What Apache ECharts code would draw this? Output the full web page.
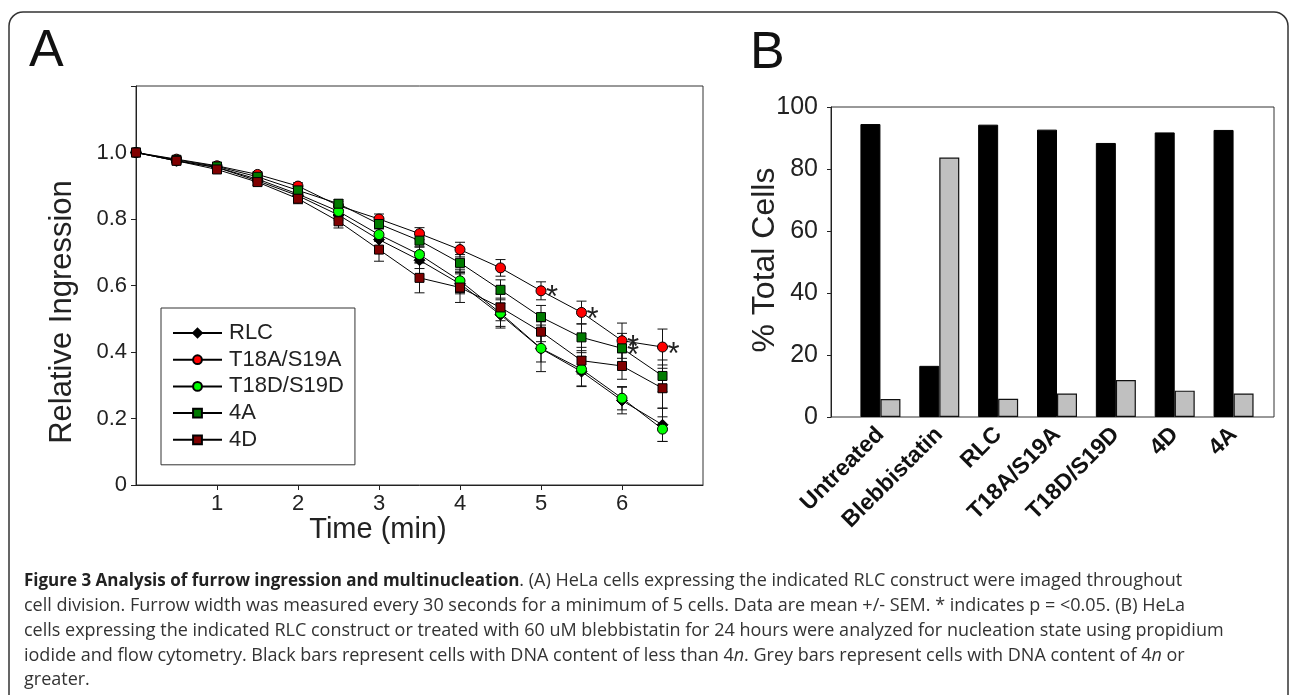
<!DOCTYPE html>
<html>
<head>
<meta charset="utf-8">
<script src="https://cdn.jsdelivr.net/npm/echarts@6/dist/echarts.min.js"></script>
<style>html,body{margin:0;padding:0;background:#fff;}#c{width:1293px;height:695px;}</style>
</head>
<body>
<div id="c"></div>
<script>
// ---------- Panel A data ----------
const timeMin = [0, 0.5, 1, 1.5, 2, 2.5, 3, 3.5, 4, 4.5, 5, 5.5, 6, 6.5];
const rlcMean  = [1.0, 0.975, 0.955, 0.915, 0.870, 0.812, 0.738, 0.676, 0.605, 0.512, 0.410, 0.341, 0.254, 0.181];
const rlcSem   = [0, 0.005, 0.008, 0.010, 0.012, 0.015, 0.020, 0.025, 0.030, 0.035, 0.040, 0.045, 0.040, 0.050];
const t18aMean = [1.0, 0.980, 0.960, 0.934, 0.899, 0.840, 0.800, 0.756, 0.708, 0.653, 0.584, 0.519, 0.434, 0.415];
const t18aSem  = [0, 0.005, 0.006, 0.008, 0.010, 0.012, 0.015, 0.018, 0.022, 0.025, 0.027, 0.034, 0.053, 0.054];
const t18dMean = [1.0, 0.975, 0.955, 0.920, 0.875, 0.823, 0.753, 0.693, 0.614, 0.517, 0.411, 0.348, 0.261, 0.168];
const t18dSem  = [0, 0.005, 0.008, 0.010, 0.012, 0.015, 0.020, 0.025, 0.035, 0.045, 0.070, 0.050, 0.035, 0.037];
const a4Mean   = [1.0, 0.978, 0.958, 0.927, 0.886, 0.846, 0.785, 0.735, 0.668, 0.587, 0.505, 0.444, 0.411, 0.328];
const a4Sem    = [0, 0.005, 0.006, 0.008, 0.010, 0.012, 0.015, 0.020, 0.025, 0.030, 0.035, 0.040, 0.045, 0.048];
const d4Mean   = [1.0, 0.975, 0.949, 0.911, 0.861, 0.793, 0.708, 0.623, 0.594, 0.534, 0.461, 0.374, 0.358, 0.291];
const d4Sem    = [0, 0.005, 0.008, 0.010, 0.015, 0.020, 0.035, 0.045, 0.045, 0.040, 0.030, 0.040, 0.040, 0.060];
// significant points (time, value) marked with *
const sigPoints = [[5, 0.584], [5.5, 0.519], [6, 0.434], [6, 0.411], [6.5, 0.415]];
const xTickValues = [1, 2, 3, 4, 5, 6];
const xTickLabels = ['1', '2', '3', '4', '5', '6'];
const yTickLabels = ['0', '0.2', '0.4', '0.6', '0.8', '1.0'];

// ---------- Panel B data ----------
const barCategories = ['Untreated', 'Blebbistatin', 'RLC', 'T18A/S19A', 'T18D/S19D', '4D', '4A'];
const belowFourN = [94.5, 16.5, 94.3, 92.7, 88.4, 91.8, 92.6];
const fourNOrMore = [5.8, 83.7, 5.9, 7.6, 11.9, 8.5, 7.6];
const bTickLabels = ['0', '20', '40', '60', '80', '100'];

const FONT = 'Liberation Sans, Arial, sans-serif';
const CAP = 'Open Sans';

const seriesDefs = [
  {name: 'RLC', mean: rlcMean, sem: rlcSem, symbol: 'diamond', size: 11, color: '#000000'},
  {name: 'T18A/S19A', mean: t18aMean, sem: t18aSem, symbol: 'circle', size: 10, color: '#ff0000'},
  {name: 'T18D/S19D', mean: t18dMean, sem: t18dSem, symbol: 'circle', size: 10, color: '#00ff00'},
  {name: '4A', mean: a4Mean, sem: a4Sem, symbol: 'rect', size: 9, color: '#007a00'},
  {name: '4D', mean: d4Mean, sem: d4Sem, symbol: 'rect', size: 9, color: '#800000'}
];

function errRender(params, api) {
  const x = api.value(0), y = api.value(1), e = api.value(2);
  if (!e) return null;
  const top = api.coord([x, y + e]);
  const bot = api.coord([x, y - e]);
  const w = 5;
  const st = {stroke: '#111', lineWidth: 1};
  return {type: 'group', children: [
    {type: 'line', shape: {x1: top[0], y1: top[1], x2: bot[0], y2: bot[1]}, style: st},
    {type: 'line', shape: {x1: top[0] - w, y1: top[1], x2: top[0] + w, y2: top[1]}, style: st},
    {type: 'line', shape: {x1: bot[0] - w, y1: bot[1], x2: bot[0] + w, y2: bot[1]}, style: st}
  ]};
}

const series = [];
seriesDefs.forEach(d => {
  series.push({
    type: 'custom', xAxisIndex: 0, yAxisIndex: 0, z: 2, silent: true,
    renderItem: errRender,
    data: timeMin.map((t, i) => [t, d.mean[i], d.sem[i]])
  });
});
seriesDefs.forEach(d => {
  series.push({
    name: d.name, type: 'line', xAxisIndex: 0, yAxisIndex: 0, z: 3,
    symbol: d.symbol, symbolSize: d.size, showAllSymbol: true,
    lineStyle: {color: '#000', width: 1},
    itemStyle: {color: d.color, borderColor: '#000', borderWidth: 1},
    data: timeMin.map((t, i) => [t, d.mean[i]])
  });
});
series.push({
  type: 'custom', xAxisIndex: 0, yAxisIndex: 0, z: 5, silent: true,
  renderItem: function (params, api) {
    const p = api.coord([api.value(0), api.value(1)]);
    return {type: 'text', x: p[0] + 5, y: p[1] + 8, style: {text: '*', fontSize: 31, fontFamily: FONT, fill: '#222', verticalAlign: 'middle', align: 'left'}};
  },
  data: sigPoints
});
series.push({
  name: '< 4n', type: 'bar', xAxisIndex: 2, yAxisIndex: 2, barWidth: 20, barGap: '0%',
  itemStyle: {color: '#000', borderColor: '#000', borderWidth: 1},
  data: belowFourN
});
series.push({
  name: '>= 4n', type: 'bar', xAxisIndex: 2, yAxisIndex: 2, barWidth: 20, barGap: '0%',
  itemStyle: {color: '#c0c0c0', borderColor: '#111', borderWidth: 1.2},
  data: fourNOrMore
});

const chart = echarts.init(document.getElementById('c'), null, {renderer: 'canvas'});
chart.setOption({
  animation: false,
  backgroundColor: '#fff',
  grid: [
    {left: 136, top: 86, width: 567, height: 399, show: true, borderColor: '#333', borderWidth: 1, backgroundColor: 'transparent'},
    {left: 831, top: 107, width: 443, height: 310, show: true, borderColor: '#333', borderWidth: 1, backgroundColor: 'transparent'},
    {left: 851, top: 107, width: 412, height: 310}
  ],
  legend: {
    data: seriesDefs.map(d => d.name),
    orient: 'vertical', left: 161, top: 308,
    padding: [14, 11, 14, 11],
    borderColor: '#333', borderWidth: 1, backgroundColor: '#fff',
    itemWidth: 49, itemHeight: 11, itemGap: 4.7,
    textStyle: {fontFamily: FONT, fontSize: 22, color: '#222', padding: [0, 0, 0, 2]}
  },
  xAxis: [
    {type: 'value', gridIndex: 0, min: 0, max: 7, interval: 1,
      axisLine: {show: true, onZero: false, lineStyle: {color: '#222'}},
      axisTick: {show: true, length: 5, lineStyle: {color: '#222'}, customValues: xTickValues},
      splitLine: {show: false},
      axisLabel: {fontFamily: FONT, fontSize: 22, color: '#222', margin: 8, customValues: xTickValues,
        formatter: v => xTickLabels[xTickValues.indexOf(v)] || ''}},
    {type: 'value', gridIndex: 1, min: 0, max: 1, show: false},
    {type: 'category', gridIndex: 2, data: barCategories,
      axisLine: {show: false}, axisTick: {show: false},
      axisLabel: {interval: 0, rotate: 45, fontFamily: FONT, fontWeight: 'bold', fontSize: 23, color: '#111', margin: 14}}
  ],
  yAxis: [
    {type: 'value', gridIndex: 0, min: 0, max: 1.2, interval: 0.2,
      axisLine: {show: true, onZero: false, lineStyle: {color: '#222'}},
      axisTick: {show: true, length: 5, lineStyle: {color: '#222'}},
      splitLine: {show: false},
      axisLabel: {fontFamily: FONT, fontSize: 22, color: '#222', margin: 9,
        formatter: v => { const i = Math.round(v / 0.2); return i <= 5 ? yTickLabels[i] : ''; }}},
    {type: 'value', gridIndex: 1, min: 0, max: 100, interval: 20,
      axisLine: {show: true, lineStyle: {color: '#222'}},
      axisTick: {show: true, length: 4, lineStyle: {color: '#222'}},
      splitLine: {show: false},
      axisLabel: {fontFamily: FONT, fontSize: 25, color: '#222', margin: 13,
        formatter: v => bTickLabels[Math.round(v / 20)]}},
    {type: 'value', gridIndex: 2, min: 0, max: 100, show: false}
  ],
  series: series,
  graphic: [
    {type: 'rect', z: -1, shape: {x: 9, y: 12, width: 1279, height: 730, r: 14}, style: {fill: 'none', stroke: '#333', lineWidth: 1.5}},
    {type: 'text', left: 29, top: 26, style: {text: 'A', fontFamily: FONT, fontSize: 52, fill: '#111'}},
    {type: 'text', left: 750, top: 28, style: {text: 'B', fontFamily: FONT, fontSize: 52, fill: '#111'}},
    {type: 'text', x: 62, y: 312, rotation: Math.PI / 2, style: {text: 'Relative Ingression', fontFamily: FONT, fontSize: 31, fill: '#222', align: 'center', verticalAlign: 'middle'}},
    {type: 'text', x: 378, y: 530, style: {text: 'Time (min)', fontFamily: FONT, fontSize: 29, fill: '#222', align: 'center', verticalAlign: 'middle'}},
    {type: 'text', x: 765, y: 260, rotation: Math.PI / 2, style: {text: '% Total Cells', fontFamily: FONT, fontSize: 32, fill: '#222', align: 'center', verticalAlign: 'middle'}},
    {type: 'text', x: 24, y: 581, style: {verticalAlign: 'middle', fontFamily: CAP, fontSize: 18, fill: '#333',
      text: '{b|Figure 3 Analysis of furrow ingression and multinucleation}. (A) HeLa cells expressing the indicated RLC construct were imaged throughout',
      rich: {b: {fontWeight: 'bold', fontFamily: CAP, fontSize: 17, fill: '#222'}}}},
    {type: 'text', x: 24, y: 606, style: {verticalAlign: 'middle', fontFamily: CAP, fontSize: 18, fill: '#333',
      text: 'cell division. Furrow width was measured every 30 seconds for a minimum of 5 cells. Data are mean +/- SEM. * indicates p = <0.05. (B) HeLa'}},
    {type: 'text', x: 24, y: 631, style: {verticalAlign: 'middle', fontFamily: CAP, fontSize: 18, fill: '#333',
      text: 'cells expressing the indicated RLC construct or treated with 60 uM blebbistatin for 24 hours were analyzed for nucleation state using propidium'}},
    {type: 'text', x: 24, y: 656, style: {verticalAlign: 'middle', fontFamily: CAP, fontSize: 18, fill: '#333',
      text: 'iodide and flow cytometry. Black bars represent cells with DNA content of less than 4{i|n}. Grey bars represent cells with DNA content of 4{i|n} or',
      rich: {i: {fontStyle: 'italic', fontFamily: CAP, fontSize: 18, fill: '#333'}}}},
    {type: 'text', x: 24, y: 680, style: {verticalAlign: 'middle', fontFamily: CAP, fontSize: 18, fill: '#333', text: 'greater.'}}
  ]
});
</script>
</body>
</html>
